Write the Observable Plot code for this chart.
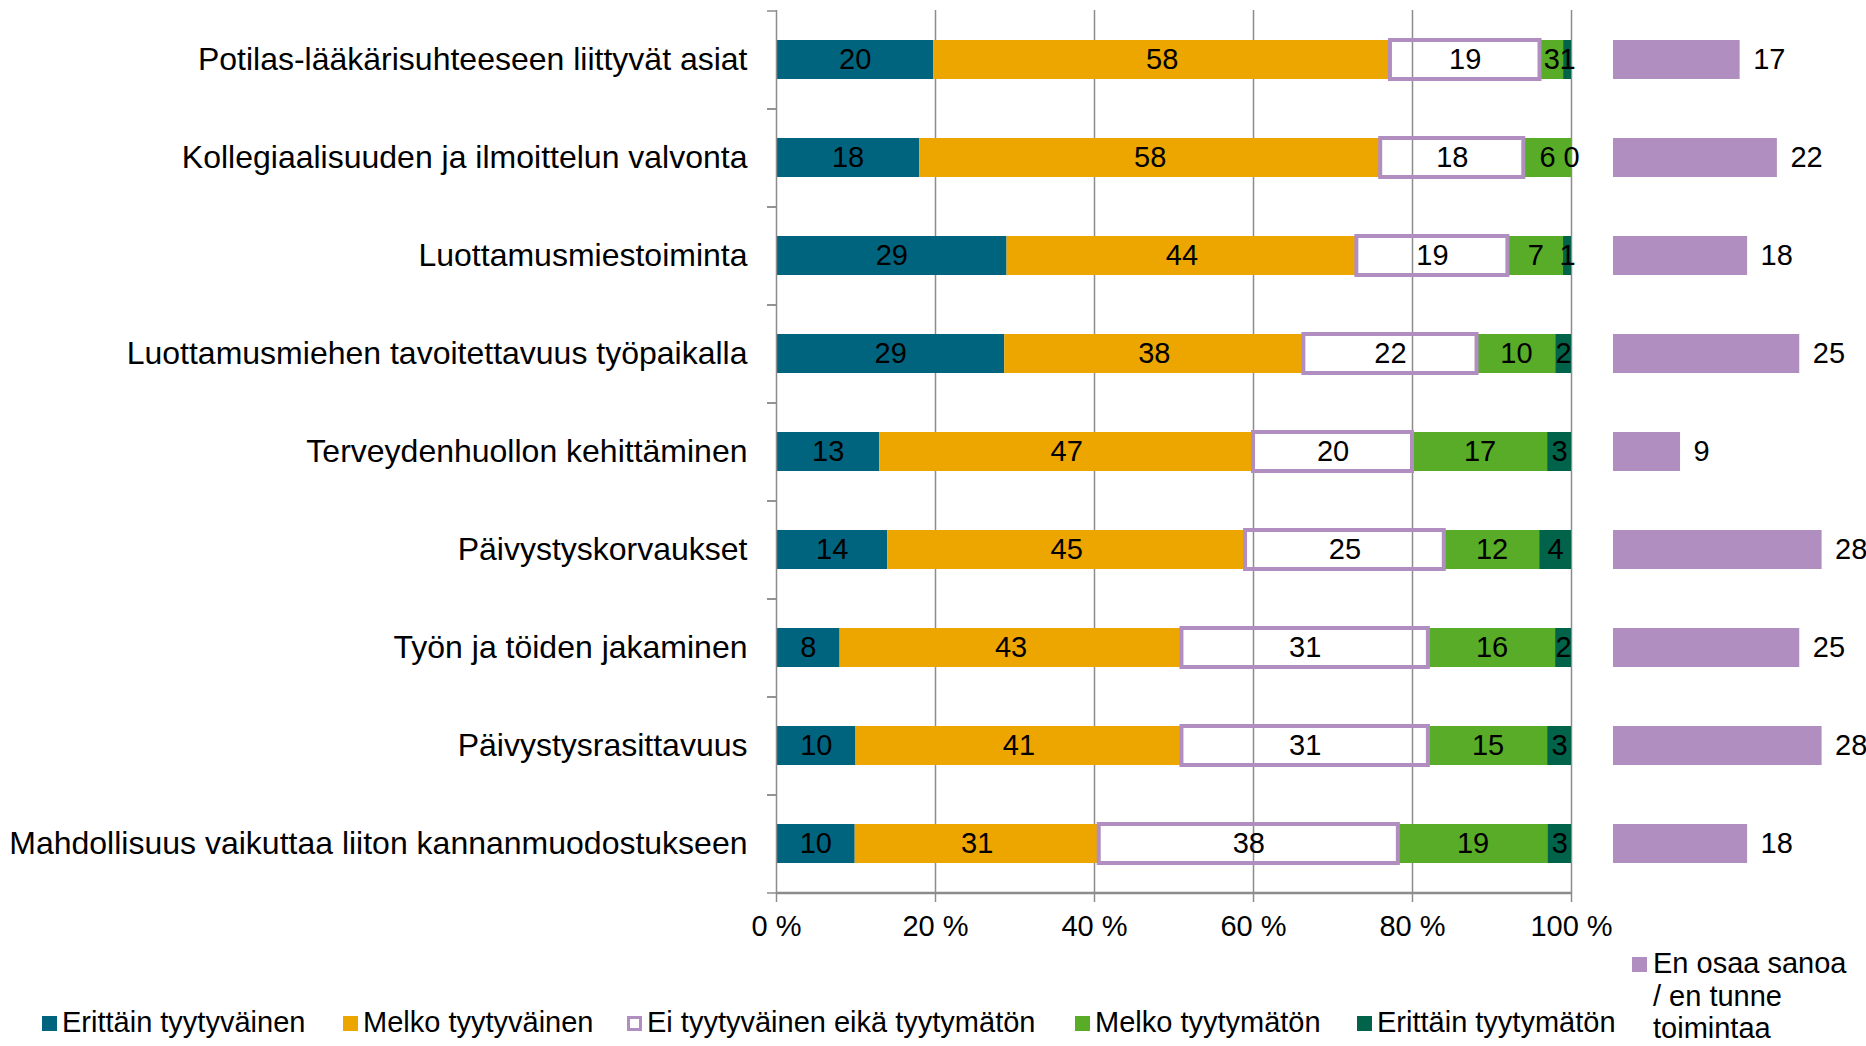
<!DOCTYPE html>
<html>
<head>
<meta charset="utf-8">
<script src="https://cdn.jsdelivr.net/npm/d3@7"></script>
<script src="https://cdn.jsdelivr.net/npm/@observablehq/plot@0.6"></script>
<style>
  html, body { margin: 0; padding: 0; background: #fff; }
  body { font-family: "Liberation Sans", Arial, sans-serif; color: #000; }
  #wrap { position: relative; width: 1866px; height: 1046px; overflow: hidden; background: #fff; }
  #main { position: absolute; left: 0; top: 0; }
  #side { position: absolute; left: 1590px; top: 0; }
  .lg-mark { position: absolute; width: 15px; height: 15px; box-sizing: border-box; }
  .lg-text { position: absolute; font-size: 29px; line-height: 35px; white-space: nowrap; }
</style>
</head>
<body>
<div id="wrap">
  <div id="main"></div>
  <div id="side"></div>
</div>
<script>
// ---------------- DATA ----------------
const categories = [
  "Potilas-lääkärisuhteeseen liittyvät asiat",
  "Kollegiaalisuuden ja ilmoittelun valvonta",
  "Luottamusmiestoiminta",
  "Luottamusmiehen tavoitettavuus työpaikalla",
  "Terveydenhuollon kehittäminen",
  "Päivystyskorvaukset",
  "Työn ja töiden jakaminen",
  "Päivystysrasittavuus",
  "Mahdollisuus vaikuttaa liiton kannanmuodostukseen"
];
const seriesNames = [
  "Erittäin tyytyväinen",
  "Melko tyytyväinen",
  "Ei tyytyväinen eikä tyytymätön",
  "Melko tyytymätön",
  "Erittäin tyytymätön"
];
const erittainTyytyvainen = [20, 18, 29, 29, 13, 14, 8, 10, 10];
const melkoTyytyvainen    = [58, 58, 44, 38, 47, 45, 43, 41, 31];
const eiKumpikaan         = [19, 18, 19, 22, 20, 25, 31, 31, 38];
const melkoTyytymaton     = [3, 6, 7, 10, 17, 12, 16, 15, 19];
const erittainTyytymaton  = [1, 0, 1, 2, 3, 4, 2, 3, 3];
const enOsaaSanoa         = [17, 22, 18, 25, 9, 28, 25, 28, 18];
const enOsaaSanoaLines    = ["En osaa sanoa", "/ en tunne", "toimintaa"];
const xTicks = [0, 20, 40, 60, 80, 100];

// ---------------- STYLE ----------------
const seriesFill = ["#00647F", "#EDA600", "none", "#58AC27", "#00634A"];
const purple = "#B08FC0";
const GRID = "#8C8C8C";
const FONT = '"Liberation Sans", Arial, sans-serif';
const H = 960, MT = 10, MB = 67;

// ---------------- TABLES ----------------
const seriesValues = [erittainTyytyvainen, melkoTyytyvainen, eiKumpikaan, melkoTyytymaton, erittainTyytymaton];
const rows = categories.flatMap((category, i) =>
  seriesNames.map((series, j) => ({category, series, value: seriesValues[j][i]})));
const sideRows = categories.map((category, i) => ({category, value: enOsaaSanoa[i]}));

const yScale = {domain: categories, paddingInner: 0.6, paddingOuter: 0.3, label: null};
const stack = (extra) => Plot.stackX({x: "value", y: "category", z: "series", offset: "normalize", ...extra});

// ---------------- MAIN CHART ----------------
const main = Plot.plot({
  width: 1600, height: H,
  marginTop: MT, marginBottom: MB, marginLeft: 776, marginRight: 29,
  style: {fontFamily: FONT, background: "transparent", color: "#000", overflow: "visible"},
  x: {domain: [0, 1], label: null},
  y: yScale,
  color: {domain: seriesNames, range: seriesFill},
  marks: [
    Plot.ruleX(xTicks.slice(1), {x: d => d / 100, stroke: GRID, strokeWidth: 1.5}),
    Plot.barX(rows, stack({fill: "series"})),
    Plot.barX(rows, stack({
      fill: "none", stroke: purple, strokeWidth: 4,
      strokeOpacity: d => d.series === seriesNames[2] ? 1 : 0
    })),
    Plot.text(rows, stack({text: "value", fontSize: 29, fill: "#000"})),
    Plot.ruleX([0], {stroke: GRID, strokeWidth: 1.5}),
    Plot.ruleY([categories[categories.length - 1]], {dy: 49, stroke: GRID, strokeWidth: 2.5}),
    Plot.axisY({tickSize: 0, tickPadding: 29, fontSize: 32, label: null}),
    Plot.axisY({tickSize: 9, dy: 49, tickFormat: null, stroke: GRID, strokeWidth: 1.5, label: null}),
    Plot.axisY({tickSize: 9, dy: -49, tickFormat: null, stroke: GRID, strokeWidth: 1.5, label: null}),
    Plot.axisX({
      ticks: xTicks.map(t => t / 100),
      tickFormat: d => `${Math.round(d * 100)} %`,
      tickSize: 9, tickPadding: 13, fontSize: 29,
      stroke: GRID, strokeWidth: 1.5, label: null
    })
  ]
});
document.getElementById("main").appendChild(main);

// ---------------- SIDE CHART ----------------
const sideW = 276, sideML = 23, sidePlotW = 223.5;
const side = Plot.plot({
  width: sideW, height: H,
  marginTop: MT, marginBottom: MB, marginLeft: sideML, marginRight: sideW - sideML - sidePlotW,
  style: {fontFamily: FONT, background: "transparent", color: "#000", overflow: "visible"},
  x: {domain: [0, 30], axis: null},
  y: {...yScale, axis: null},
  marks: [
    Plot.barX(sideRows, {x: "value", y: "category", fill: purple}),
    Plot.text(sideRows, {x: "value", y: "category", text: "value", dx: 13, textAnchor: "start", fontSize: 29, fill: "#000"})
  ]
});
document.getElementById("side").appendChild(side);

// ---------------- LEGENDS ----------------
const wrap = document.getElementById("wrap");
const legendLeft = [42, 343, 627, 1075, 1357];
seriesNames.forEach((name, j) => {
  const m = document.createElement("div");
  m.className = "lg-mark";
  m.style.left = legendLeft[j] + "px";
  m.style.top = "1016px";
  if (seriesFill[j] === "none") {
    m.style.background = "#fff";
    m.style.border = `3px solid ${purple}`;
  } else {
    m.style.background = seriesFill[j];
  }
  wrap.appendChild(m);
  const t = document.createElement("div");
  t.className = "lg-text";
  t.style.left = (legendLeft[j] + 20) + "px";
  t.style.top = "1004.5px";
  t.textContent = name;
  wrap.appendChild(t);
});
{
  const m = document.createElement("div");
  m.className = "lg-mark";
  m.style.left = "1632px";
  m.style.top = "957px";
  m.style.background = purple;
  wrap.appendChild(m);
  const t = document.createElement("div");
  t.className = "lg-text";
  t.style.left = "1653px";
  t.style.top = "947px";
  t.style.lineHeight = "32.5px";
  enOsaaSanoaLines.forEach((line, k) => {
    if (k) t.appendChild(document.createElement("br"));
    t.appendChild(document.createTextNode(line));
  });
  wrap.appendChild(t);
}
</script>
</body>
</html>
